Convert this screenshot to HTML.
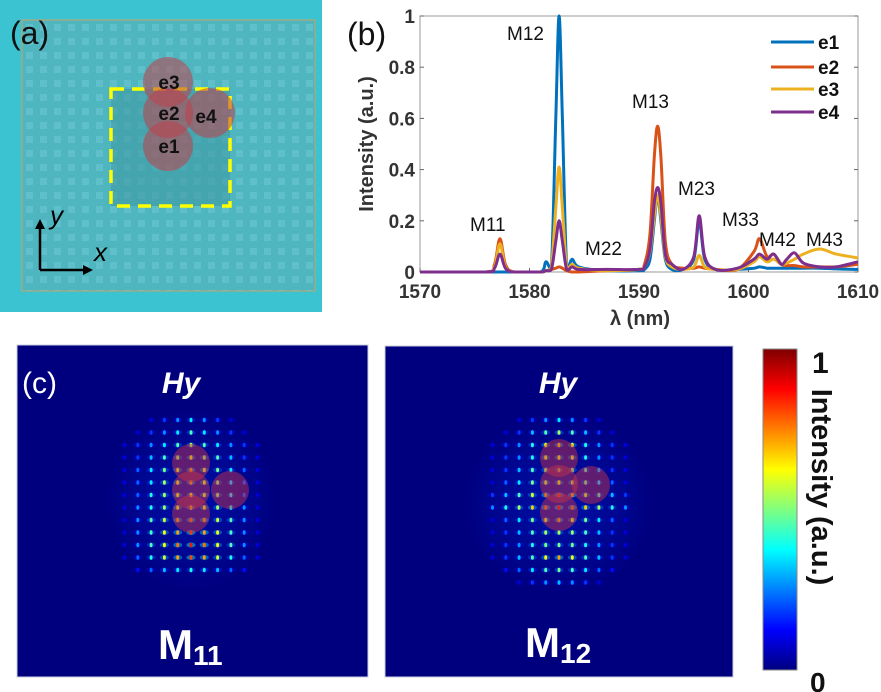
<!DOCTYPE html>
<html><head><meta charset="utf-8">
<style>
html,body{margin:0;padding:0;background:#fff;}
body{width:881px;height:692px;overflow:hidden;font-family:"Liberation Sans",sans-serif;}
svg{display:block}
</style></head>
<body>
<svg id="fig" width="881" height="692" viewBox="0 0 881 692" xmlns="http://www.w3.org/2000/svg">
<defs>
<pattern id="holes" x="22" y="20" width="14" height="14" patternUnits="userSpaceOnUse">
<rect x="4" y="4" width="7" height="7" fill="#7fd3e3" opacity="0.35"/>
</pattern>
<linearGradient id="jet" x1="0" y1="1" x2="0" y2="0">
<stop offset="0" stop-color="#00007f"/><stop offset="0.125" stop-color="#0000ff"/>
<stop offset="0.375" stop-color="#00ffff"/><stop offset="0.625" stop-color="#ffff00"/>
<stop offset="0.875" stop-color="#ff0000"/><stop offset="1" stop-color="#7f0000"/>
</linearGradient>
<radialGradient id="glow"><stop offset="0" stop-color="#0030ff" stop-opacity="0.35"/><stop offset="1" stop-color="#0030ff" stop-opacity="0"/></radialGradient>
</defs>

<!-- Panel (a) -->
<g>
<rect x="0" y="0" width="322" height="312" fill="#3cc3d1"/>
<rect x="22" y="20" width="293" height="271" fill="#4fb6bf" stroke="#c8a060" stroke-width="1"/>
<rect x="22" y="20" width="293" height="271" fill="url(#holes)"/>
<rect x="111" y="89" width="119" height="117" fill="#3f9aa3" opacity="0.6"/>
<rect x="111" y="89" width="119" height="117" fill="none" stroke="#ffff00" stroke-width="3.5" stroke-dasharray="13,8"/>
<g fill="#c0404a" fill-opacity="0.55">
<circle cx="168" cy="82" r="25"/>
<circle cx="210" cy="113" r="25"/>
<circle cx="168" cy="146" r="25"/>
<circle cx="168" cy="113" r="25"/>
</g>
<g font-weight="bold" font-size="19" fill="#111" text-anchor="middle">
<text x="169" y="89">e3</text>
<text x="169" y="120">e2</text>
<text x="206" y="123">e4</text>
<text x="169" y="153">e1</text>
</g>
<text x="10" y="44" font-size="32" fill="#111">(a)</text>
<g stroke="#000" stroke-width="2.5" fill="none">
<path d="M40 270 V226"/><path d="M40 270 H86"/>
</g>
<path d="M40 219 L35 229 L45 229 Z" fill="#000"/>
<path d="M93 270 L83 265 L83 275 Z" fill="#000"/>
<text x="50" y="224" font-size="26" font-style="italic" fill="#000">y</text>
<text x="94" y="261" font-size="26" font-style="italic" fill="#000">x</text>
</g>

<!-- Panel (b) -->
<g id="panelB">
<rect x="420" y="16" width="438" height="256" fill="#fff" stroke="#999" stroke-width="1"/>
<g id="ticksB"></g>
<g id="linesB"></g>
<text x="347" y="45" font-size="32" fill="#111">(b)</text>
<text transform="translate(373,144) rotate(-90)" text-anchor="middle" font-size="20" font-weight="bold" fill="#333">Intensity (a.u.)</text>
<text x="640" y="325" text-anchor="middle" font-size="20" font-weight="bold" fill="#333">λ (nm)</text>
<g font-size="19" fill="#111">
<text x="507" y="40">M12</text>
<text x="632" y="108">M13</text>
<text x="678" y="195">M23</text>
<text x="470" y="231">M11</text>
<text x="585" y="255">M22</text>
<text x="722" y="226">M33</text>
<text x="759" y="246">M42</text>
<text x="806" y="246">M43</text>
</g>
<g id="legendB"></g>
</g>

<!-- Panel (c) -->
<g>
<rect x="17" y="345" width="351" height="332" fill="#00007f" stroke="#ccd" stroke-width="1"/>
<rect x="385" y="346" width="348" height="331" fill="#00007f" stroke="#ccd" stroke-width="1"/>
<ellipse cx="191" cy="500" rx="85" ry="90" fill="url(#glow)"/>
<ellipse cx="559" cy="503" rx="95" ry="90" fill="url(#glow)"/>
<g id="dots"></g>
<g fill="#c0304a" fill-opacity="0.5">
<circle cx="191" cy="463" r="19"/>
<circle cx="230" cy="490" r="19"/>
<circle cx="191" cy="490" r="19"/>
<circle cx="191" cy="514" r="19"/>
<circle cx="559" cy="458" r="19"/>
<circle cx="591" cy="485" r="19"/>
<circle cx="559" cy="484" r="19"/>
<circle cx="559" cy="512" r="19"/>
</g>
<text x="22" y="393" font-size="30" fill="#fff">(c)</text>
<g fill="#fff" font-weight="bold">
<text x="181" y="393" text-anchor="middle" font-size="30" font-style="italic">Hy</text>
<text x="558" y="393" text-anchor="middle" font-size="30" font-style="italic">Hy</text>
<text x="158" y="659" font-size="42">M<tspan font-size="28" dy="6">11</tspan></text>
<text x="525" y="657" font-size="42">M<tspan font-size="28" dy="6">12</tspan></text>
</g>
<rect x="763" y="349" width="34" height="321" fill="url(#jet)" stroke="#888" stroke-width="1"/>
<text x="812" y="373" font-size="30" font-weight="bold" fill="#111">1</text>
<text x="810" y="692" font-size="28" font-weight="bold" fill="#111">0</text>
<text transform="translate(812,487) rotate(90)" text-anchor="middle" font-size="29" font-weight="bold" fill="#111">Intensity (a.u.)</text>
</g>
</svg>
<script>
const wavelengths=[1570,1576,1576.8,1577.3,1577.8,1578.6,1581,1581.5,1582,1582.4,1582.7,1583,1583.4,1583.9,1584.5,1587,1590,1590.5,1591,1591.4,1591.7,1592,1592.4,1593,1594,1595,1595.5,1596,1597,1599,1600.5,1601,1601.7,1602.3,1603,1603.5,1604.2,1605,1606.5,1608,1610];
const seriesE1=[0,0,0,0,0,0,0,0.04,0.02,0.6,1.0,0.6,0.02,0.05,0.02,0.005,0.005,0.01,0.05,0.2,0.3,0.2,0.05,0.01,0.01,0.05,0.2,0.05,0.01,0.01,0.015,0.02,0.015,0.015,0.015,0.015,0.015,0.015,0.015,0.012,0.01];
const seriesE2=[0,0,0.03,0.13,0.03,0,0,0.005,0.01,0.015,0.02,0.015,0.005,0,0,0.005,0.01,0.03,0.15,0.45,0.57,0.45,0.12,0.03,0.015,0.015,0.02,0.015,0.01,0.01,0.08,0.13,0.06,0.07,0.03,0.025,0.025,0.02,0.02,0.02,0.03];
const seriesE3=[0,0,0.02,0.11,0.02,0,0,0.005,0.02,0.25,0.41,0.25,0.02,0.03,0.015,0.005,0.01,0.02,0.08,0.22,0.3,0.22,0.06,0.02,0.01,0.02,0.065,0.02,0.01,0.01,0.04,0.06,0.04,0.05,0.03,0.035,0.05,0.07,0.09,0.07,0.055];
const seriesE4=[0,0,0.015,0.07,0.015,0,0,0.005,0.01,0.12,0.2,0.12,0.01,0.02,0.01,0.01,0.01,0.02,0.09,0.27,0.33,0.27,0.07,0.03,0.01,0.06,0.22,0.06,0.01,0.015,0.05,0.07,0.05,0.07,0.03,0.05,0.075,0.035,0.02,0.02,0.04];
const seriesNames=["e1","e2","e3","e4"];
const xTicks=[1570,1580,1590,1600,1610];
const yTicks=[0,0.2,0.4,0.6,0.8,1];
const yTickLabels=["0","0.2","0.4","0.6","0.8","1"];
const mapM11=[
[0,0,.1,.2,.3,.4,.3,.2,.1,0,0],
[0,.1,.2,.3,.4,.5,.4,.3,.2,.1,0],
[.1,.2,.3,.4,.5,.6,.5,.4,.3,.2,.1],
[.1,.2,.35,.5,.6,.7,.6,.5,.35,.2,.1],
[.1,.25,.4,.55,.7,.8,.7,.55,.4,.25,.1],
[.1,.25,.4,.6,.7,.8,.7,.6,.4,.25,.1],
[.1,.25,.45,.6,.7,.7,.7,.6,.45,.25,.1],
[.1,.3,.45,.6,.7,.7,.7,.6,.45,.3,.1],
[.1,.3,.5,.65,.8,.85,.8,.65,.5,.3,.1],
[.1,.3,.5,.7,.8,.9,.8,.7,.5,.3,.1],
[.1,.3,.5,.7,.85,.95,.85,.7,.5,.3,.1],
[.1,.25,.45,.65,.8,.9,.8,.65,.45,.25,.1],
[0,.15,.25,.35,.4,.45,.4,.35,.25,.15,0]];
const mapM12=[
[0,0,.1,.2,.3,.4,.3,.2,.1,0,0],
[0,.1,.2,.35,.5,.6,.5,.35,.2,.1,0],
[.1,.2,.3,.45,.7,.75,.7,.45,.3,.2,.1],
[.1,.2,.3,.45,.7,.7,.7,.45,.3,.2,.1],
[.1,.2,.35,.5,.6,.6,.6,.5,.35,.2,.1],
[.1,.25,.4,.55,.65,.7,.65,.55,.4,.25,.1],
[.2,.35,.5,.65,.8,.9,.8,.65,.5,.35,.2],
[.3,.45,.6,.75,.85,.95,.85,.75,.6,.45,.3],
[.1,.25,.4,.55,.7,.8,.7,.55,.4,.25,.1],
[.1,.2,.35,.5,.6,.6,.6,.5,.35,.2,.1],
[.1,.2,.3,.45,.55,.55,.55,.45,.3,.2,.1],
[.1,.2,.35,.5,.7,.8,.7,.5,.35,.2,.1],
[0,.15,.25,.4,.5,.55,.5,.4,.25,.15,0],
[0,0,.1,.2,.3,.35,.3,.2,.1,0,0]];

const NS="http://www.w3.org/2000/svg";
const X0=420,X1=858,Y0=272,Y1=16;
function xScale(v){return X0+(v-1570)/(1610-1570)*(X1-X0);}
function yScale(v){return Y0-(v-0)/(1-0)*(Y0-Y1);}
function mk(tag,attrs,parent){const e=document.createElementNS(NS,tag);for(const k in attrs)e.setAttribute(k,attrs[k]);parent.appendChild(e);return e;}

const ticksG=document.getElementById('ticksB');
xTicks.forEach((t,i)=>{
  const l=mk('line',{x1:xScale(t),x2:xScale(t),y1:Y0,y2:Y0-4,stroke:'#666'},ticksG);
  
  
  const tx=mk('text',{x:xScale(t),y:Y0+26,'text-anchor':'middle','font-size':'19','font-weight':'bold',fill:'#333'},ticksG);
  tx.textContent=String(t);
  
  
});
yTicks.forEach((t,i)=>{
  const l=mk('line',{x1:X0,x2:X0+4,y1:yScale(t),y2:yScale(t),stroke:'#666'},ticksG);
  
  
  const l2=mk('line',{x1:X1,x2:X1-4,y1:yScale(t),y2:yScale(t),stroke:'#666'},ticksG);
  
  
  const tx=mk('text',{x:X0-5,y:yScale(t)+7,'text-anchor':'end','font-size':'19','font-weight':'bold',fill:'#333'},ticksG);
  tx.textContent=yTickLabels[i];
  
  
});

function smoothPath(xs,ys){
  const P=xs.map((x,i)=>[xScale(x),yScale(ys[i])]);
  let d='M'+P[0][0].toFixed(1)+' '+P[0][1].toFixed(1);
  for(let i=0;i<P.length-1;i++){
    const p0=P[Math.max(0,i-1)],p1=P[i],p2=P[i+1],p3=P[Math.min(P.length-1,i+2)];
    let c1y=p1[1]+(p2[1]-p0[1])/6,c2y=p2[1]-(p3[1]-p1[1])/6;
    c1y=Math.min(c1y,Y0);c2y=Math.min(c2y,Y0);
    d+='C'+(p1[0]+(p2[0]-p0[0])/6).toFixed(1)+' '+c1y.toFixed(1)+' '+(p2[0]-(p3[0]-p1[0])/6).toFixed(1)+' '+c2y.toFixed(1)+' '+p2[0].toFixed(1)+' '+p2[1].toFixed(1);
  }
  return d;
}
const colors=["#0072bd","#d95319","#edb120","#7e2f8e"];
const allSeries=[seriesE1,seriesE2,seriesE3,seriesE4];
const linesG=document.getElementById('linesB');
[0,1,2,3].forEach(si=>{
  const vals=allSeries[si];
  const p=mk('path',{d:smoothPath(wavelengths,vals),fill:'none',stroke:colors[si],'stroke-width':'3','stroke-linejoin':'round'},linesG);
  
  
});
const legG=document.getElementById('legendB');
const legY=[42,67,89,112];
seriesNames.forEach((n,i)=>{
  const y=legY[i];
  const l=mk('line',{x1:771,x2:814,y1:y,y2:y,stroke:colors[i],'stroke-width':'3'},legG);
  
  
  const t=mk('text',{x:818,y:y+7,'font-size':'19','font-weight':'bold',fill:'#111'},legG);
  t.textContent=n;
  
  
});

function jet(v){
  v=Math.max(0,Math.min(1,v));
  const r=Math.min(4*v-1.5,-4*v+4.5),g=Math.min(4*v-0.5,-4*v+3.5),b=Math.min(4*v+0.5,-4*v+2.5);
  const c=x=>Math.round(255*Math.max(0,Math.min(1,x)));
  return 'rgb('+c(r)+','+c(g)+','+c(b)+')';
}
const dotsG=document.getElementById('dots');
function drawMap(grid,cx,y0,name){
  const dx=13.3,dy=12.5,nc=grid[0].length;
  grid.forEach((row,ri)=>{
    row.forEach((v,ci)=>{
      if(v<=0)return;
      const x=cx+(ci-(nc-1)/2)*dx,y=y0+ri*dy;
      const h=mk('ellipse',{cx:x,cy:y,rx:4.5,ry:2.5,fill:jet(v*0.4),opacity:0.45},dotsG);
      
      
      const e=mk('ellipse',{cx:x,cy:y,rx:1.5,ry:2.3,fill:jet(v*0.9)},dotsG);
      
      
    });
  });
}
drawMap(mapM11,191,420,'m11');
drawMap(mapM12,559,420,'m12');
</script>
</body></html>
